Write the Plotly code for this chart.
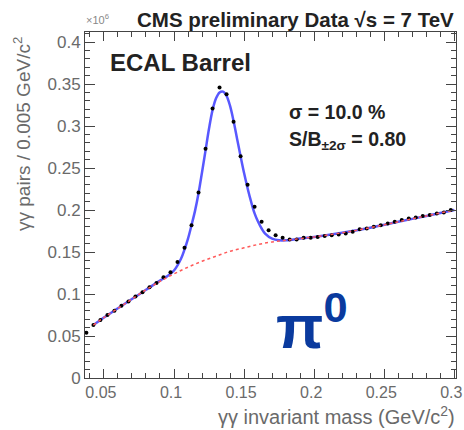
import plotly.graph_objects as go

# Data points (bin centres, GeV/c^2) and counts (x10^6)
mass = [0.0375, 0.0425, 0.0475, 0.0525, 0.0575, 0.0625, 0.0675, 0.0725, 0.0775, 0.0825,
        0.0875, 0.0925, 0.0975, 0.1025, 0.1075, 0.1125, 0.1175, 0.1225, 0.1275, 0.1325,
        0.1375, 0.1425, 0.1475, 0.1525, 0.1575, 0.1625, 0.1675, 0.1725, 0.1775, 0.1825,
        0.1875, 0.1925, 0.1975, 0.2025, 0.2075, 0.2125, 0.2175, 0.2225, 0.2275, 0.2325,
        0.2375, 0.2425, 0.2475, 0.2525, 0.2575, 0.2625, 0.2675, 0.2725, 0.2775, 0.2825,
        0.2875, 0.2925, 0.2975]
pairs = [0.054, 0.063, 0.069, 0.075, 0.080, 0.086, 0.091, 0.097, 0.102, 0.108,
         0.113, 0.120, 0.126, 0.138, 0.155, 0.182, 0.221, 0.273, 0.321, 0.346,
         0.338, 0.305, 0.264, 0.230, 0.204, 0.186, 0.176, 0.170, 0.167, 0.165,
         0.165, 0.167, 0.167, 0.168, 0.169, 0.170, 0.171, 0.172, 0.174, 0.177,
         0.178, 0.180, 0.182, 0.184, 0.186, 0.188, 0.190, 0.191, 0.193, 0.194,
         0.196, 0.197, 0.200]

# Total fit (signal + background)
fit_x = [0.0425, 0.05, 0.06, 0.07, 0.08, 0.09, 0.095, 0.10, 0.105, 0.1075, 0.11, 0.1125,
         0.115, 0.1175, 0.12, 0.1225, 0.125, 0.1275, 0.13, 0.1325, 0.135, 0.1375, 0.14,
         0.1425, 0.145, 0.1475, 0.15, 0.1525, 0.155, 0.1575, 0.16, 0.1625, 0.165, 0.17,
         0.175, 0.18, 0.19, 0.20, 0.22, 0.24, 0.26, 0.28, 0.30]
fit_y = [0.063, 0.072, 0.083, 0.094, 0.105, 0.116, 0.121, 0.128, 0.142, 0.153, 0.166, 0.182,
         0.199, 0.220, 0.245, 0.271, 0.297, 0.319, 0.333, 0.340, 0.341, 0.336, 0.324,
         0.306, 0.285, 0.264, 0.244, 0.226, 0.210, 0.196, 0.186, 0.178, 0.172, 0.166,
         0.164, 0.164, 0.166, 0.168, 0.173, 0.179, 0.186, 0.193, 0.200]

# Background-only fit
bg_x = [0.0425, 0.05, 0.06, 0.07, 0.08, 0.09, 0.10, 0.11, 0.12, 0.13, 0.14, 0.15, 0.16,
        0.17, 0.18, 0.19, 0.20, 0.22, 0.24, 0.26, 0.28, 0.30]
bg_y = [0.063, 0.072, 0.083, 0.094, 0.105, 0.115, 0.124, 0.132, 0.139, 0.145, 0.151, 0.155,
        0.159, 0.162, 0.164, 0.166, 0.168, 0.173, 0.179, 0.186, 0.193, 0.200]

x_ticks = [0.05, 0.1, 0.15, 0.2, 0.25, 0.3]
x_tick_labels = ["0.05", "0.1", "0.15", "0.2", "0.25", "0.3"]
y_ticks = [0, 0.05, 0.1, 0.15, 0.2, 0.25, 0.3, 0.35, 0.4]
y_tick_labels = ["0", "0.05", "0.1", "0.15", "0.2", "0.25", "0.3", "0.35", "0.4"]

FONT = "Liberation Sans, Arial, sans-serif"

fig = go.Figure()
fig.add_trace(go.Scatter(x=fit_x, y=fit_y, mode="lines",
                         line=dict(color="rgba(70,70,255,0.9)", width=2.5, shape="spline"),
                         hoverinfo="skip"))
fig.add_trace(go.Scatter(x=mass, y=pairs, mode="markers", marker=dict(color="black", size=4)))
fig.add_trace(go.Scatter(x=bg_x, y=bg_y, mode="lines",
                         line=dict(color="rgb(255,90,90)", width=1.5, dash="dot", shape="spline"),
                         hoverinfo="skip"))

axis_common = dict(showgrid=False, zeroline=False, showline=True, linecolor="#444", linewidth=1,
                   mirror="allticks", ticks="inside", tickcolor="#444", automargin=False)

fig.update_xaxes(range=[0.0365, 0.3012], tickvals=x_ticks, ticktext=x_tick_labels, ticklen=9,
                 ticklabeloverflow="allow", ticklabelshift=-3,
                 tickfont=dict(family=FONT, size=16, color="#6a6a6a"),
                 minor=dict(ticks="inside", dtick=0.01, tick0=0, ticklen=5, tickcolor="#444"),
                 **axis_common)
fig.update_yaxes(range=[0, 0.412], tickvals=y_ticks, ticktext=y_tick_labels, ticklen=10,
                 tickfont=dict(family=FONT, size=17, color="#6a6a6a"),
                 minor=dict(ticks="inside", dtick=0.01, tick0=0, ticklen=5, tickcolor="#444"),
                 **axis_common)

annotations = [
    dict(text="<b>CMS preliminary Data √s = 7 TeV</b>", x=456, y=20, xanchor="right", size=20.5, color="#222"),
    dict(text="×10<sup>6</sup>", x=84, y=19, xanchor="left", size=11, color="#888"),
    dict(text="<b>ECAL Barrel</b>", x=108, y=62, xanchor="left", size=24, color="#222"),
    dict(text="<b>σ = 10.0 %</b>", x=287, y=112, xanchor="left", size=19.5, color="#222"),
    dict(text="<b>S/B<sub>±2σ</sub> = 0.80</b>", x=287, y=141, xanchor="left", size=19.5, color="#222"),
    dict(text="<b>π<sup>0</sup></b>", x=274, y=322, xanchor="left", size=62, color="#0a3a9e"),
    dict(text="γγ invariant mass (GeV/c<sup>2</sup>)", x=457, y=416, xanchor="right", size=20, color="#6a6a6a"),
]
for a in annotations:
    fig.add_annotation(text=a["text"], x=a["x"] / 464, y=1 - a["y"] / 430, xref="paper", yref="paper",
                       xanchor=a["xanchor"], yanchor="middle", showarrow=False,
                       font=dict(family=FONT, size=a["size"], color=a["color"]))

fig.add_annotation(text="γγ pairs / 0.005 GeV/c<sup>2</sup>", textangle=-90, x=22 / 464, y=1 - 35 / 430,
                   xref="paper", yref="paper", xanchor="center", yanchor="top", showarrow=False,
                   font=dict(family=FONT, size=19, color="#6a6a6a"))

fig.update_layout(width=464, height=430, margin=dict(l=85, r=8, t=32, b=52),
                  plot_bgcolor="white", paper_bgcolor="white", showlegend=False)

# convert annotation positions from full-figure pixels to paper coordinates
L, R, T, B = 85, 8, 32, 52
pw, ph = 464 - L - R, 430 - T - B
for ann in fig.layout.annotations:
    px = ann.x * 464
    py = (1 - ann.y) * 430
    ann.x = (px - L) / pw
    ann.y = 1 - (py - T) / ph

fig.write_html("out.html")
